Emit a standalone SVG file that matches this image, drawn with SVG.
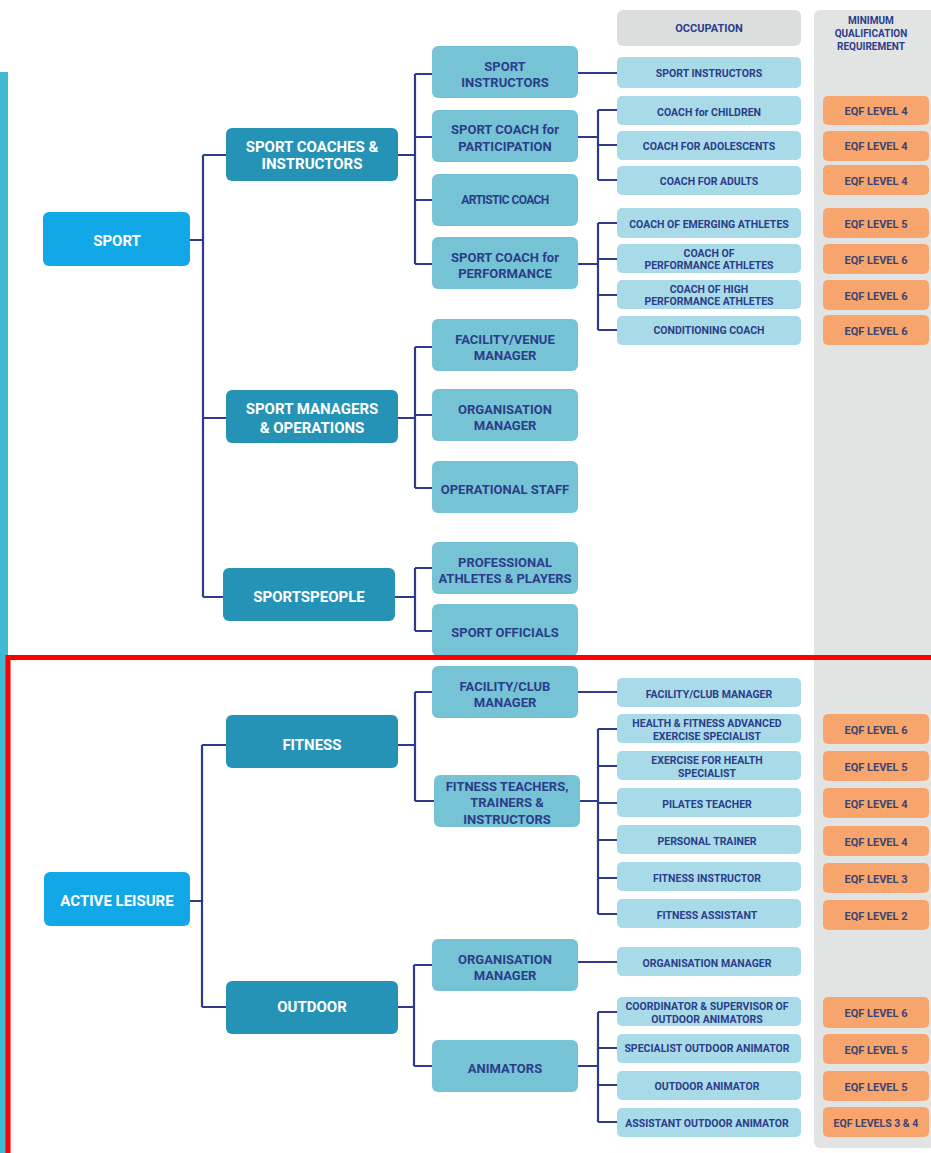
<svg xmlns="http://www.w3.org/2000/svg" width="931" height="1153" viewBox="0 0 931 1153">
<style>
text{font-family:Roboto,"Liberation Sans",sans-serif;font-weight:bold;text-anchor:middle;dominant-baseline:central}
.root{fill:#12a7e6}
.l1{fill:#2593b5}
.l2{fill:#77c3d6}
.occ{fill:#a9dae8}
.eqf{fill:#f7a56c}
.tw{fill:#fff;font-size:15px}
.t2{fill:#2b3d8a;font-size:13px}
.t3{fill:#2b3d8a;font-size:10.5px}
.te{fill:#3f4270;font-size:11px}
.th{fill:#2b3d8a;font-size:10px}
.conn path{fill:none;stroke:#2e3a8c;stroke-width:2.2}
</style>
<rect x="0" y="0" width="931" height="1153" fill="#fff"/>
<rect x="0" y="72" width="8" height="1081" fill="#3fb9d4"/>
<rect x="814" y="10" width="130" height="1138" rx="6" fill="#e2e3e3"/>
<g id="hdr-occ"><rect x="617" y="10" width="184" height="36" rx="6" fill="#dcdddd"/><text class="t3" x="709" y="28" style="font-size:11px">OCCUPATION</text></g>
<g id="hdr-min"><text class="th" x="871" y="20">MINIMUM</text><text class="th" x="871" y="33">QUALIFICATION</text><text class="th" x="871" y="46">REQUIREMENT</text></g>

<g class="conn" id="connectors">
<path d="M190 240H203M203 155V597M203 155H226M203 418H226M203 597H223"/>
<path d="M398 155H415M415 74V264M415 74H432M415 137H432M415 200H432M415 264H432"/>
<path d="M578 73H617"/>
<path d="M578 137H598M598 110V180M598 110H617M598 145H617M598 180H617"/>
<path d="M578 264H598M598 223V330M598 223H617M598 259H617M598 295H617M598 330H617"/>
<path d="M398 418H415M415 347V488M415 347H432M415 415H432M415 488H432"/>
<path d="M395 597H415M415 568V631M415 568H432M415 631H432"/>
<path d="M190 901H202M202 745V1007M202 745H226M202 1007H226"/>
<path d="M398 745H415M415 692V801M415 692H432M415 801H434"/>
<path d="M578 692H617"/>
<path d="M580 801H598M598 729V914M598 729H617M598 766H617M598 803H617M598 840H617M598 878H617M598 914H617"/>
<path d="M398 1007H414M414 965V1066M414 965H432M414 1066H432"/>
<path d="M578 962H617"/>
<path d="M578 1066H598M598 1012V1122M598 1012H617M598 1048H617M598 1085H617M598 1122H617"/>
</g>

<g id="sport"><rect class="root" x="43" y="212" width="147" height="54" rx="6"/><text class="tw" x="117" y="241">SPORT</text></g>
<g id="active-leisure"><rect class="root" x="44" y="872" width="146" height="54" rx="6"/><text class="tw" x="117" y="901">ACTIVE LEISURE</text></g>

<g id="coaches"><rect class="l1" x="226" y="128" width="172" height="53" rx="6"/><text class="tw" x="312" y="147">SPORT COACHES &amp;</text><text class="tw" x="312" y="164">INSTRUCTORS</text></g>
<g id="managers"><rect class="l1" x="226" y="390" width="172" height="53" rx="6"/><text class="tw" x="312" y="409">SPORT MANAGERS</text><text class="tw" x="312" y="428">&amp; OPERATIONS</text></g>
<g id="sportspeople"><rect class="l1" x="223" y="568" width="172" height="53" rx="6"/><text class="tw" x="309" y="597">SPORTSPEOPLE</text></g>
<g id="fitness"><rect class="l1" x="226" y="715" width="172" height="53" rx="6"/><text class="tw" x="312" y="745">FITNESS</text></g>
<g id="outdoor"><rect class="l1" x="226" y="981" width="172" height="53" rx="6"/><text class="tw" x="312" y="1007">OUTDOOR</text></g>

<g id="m-sport-instructors"><rect class="l2" x="432" y="46" width="146" height="52" rx="6"/><text class="t2" x="505" y="66">SPORT</text><text class="t2" x="505" y="82">INSTRUCTORS</text></g>
<g id="m-participation"><rect class="l2" x="432" y="110" width="146" height="52" rx="6"/><text class="t2" x="505" y="129">SPORT COACH for</text><text class="t2" x="505" y="146">PARTICIPATION</text></g>
<g id="m-artistic"><rect class="l2" x="432" y="174" width="146" height="52" rx="6"/><text class="t2" x="505" y="200" style="font-size:12px;letter-spacing:-0.6px">ARTISTIC COACH</text></g>
<g id="m-performance"><rect class="l2" x="432" y="237" width="146" height="52" rx="6"/><text class="t2" x="505" y="257">SPORT COACH for</text><text class="t2" x="505" y="273">PERFORMANCE</text></g>
<g id="m-venue"><rect class="l2" x="432" y="319" width="146" height="52" rx="6"/><text class="t2" x="505" y="339">FACILITY/VENUE</text><text class="t2" x="505" y="355">MANAGER</text></g>
<g id="m-org"><rect class="l2" x="432" y="389" width="146" height="52" rx="6"/><text class="t2" x="505" y="409">ORGANISATION</text><text class="t2" x="505" y="425">MANAGER</text></g>
<g id="m-opstaff"><rect class="l2" x="432" y="461" width="146" height="52" rx="6"/><text class="t2" x="505" y="489">OPERATIONAL STAFF</text></g>
<g id="m-athletes"><rect class="l2" x="432" y="542" width="146" height="52" rx="6"/><text class="t2" x="505" y="562">PROFESSIONAL</text><text class="t2" x="505" y="578">ATHLETES &amp; PLAYERS</text></g>
<g id="m-officials"><rect class="l2" x="432" y="604" width="146" height="52" rx="6"/><text class="t2" x="505" y="632">SPORT OFFICIALS</text></g>
<g id="m-club"><rect class="l2" x="432" y="666" width="146" height="52" rx="6"/><text class="t2" x="505" y="686">FACILITY/CLUB</text><text class="t2" x="505" y="702">MANAGER</text></g>
<g id="m-fitteachers"><rect class="l2" x="434" y="775" width="146" height="52" rx="6"/><text class="t2" x="507" y="786">FITNESS TEACHERS,</text><text class="t2" x="507" y="802">TRAINERS &amp;</text><text class="t2" x="507" y="819">INSTRUCTORS</text></g>
<g id="m-org2"><rect class="l2" x="432" y="939" width="146" height="52" rx="6"/><text class="t2" x="505" y="959">ORGANISATION</text><text class="t2" x="505" y="975">MANAGER</text></g>
<g id="m-animators"><rect class="l2" x="432" y="1040" width="146" height="52" rx="6"/><text class="t2" x="505" y="1068">ANIMATORS</text></g>

<g id="o1"><rect class="occ" x="617" y="57" width="184" height="31" rx="5"/><text class="t3" x="709" y="73">SPORT INSTRUCTORS</text></g>
<g id="o2"><rect class="occ" x="617" y="96" width="184" height="29" rx="5"/><text class="t3" x="709" y="112">COACH for CHILDREN</text></g>
<g id="o3"><rect class="occ" x="617" y="131" width="184" height="29" rx="5"/><text class="t3" x="709" y="146">COACH FOR ADOLESCENTS</text></g>
<g id="o4"><rect class="occ" x="617" y="166" width="184" height="29" rx="5"/><text class="t3" x="709" y="181">COACH FOR ADULTS</text></g>
<g id="o5"><rect class="occ" x="617" y="208" width="184" height="30" rx="5"/><text class="t3" x="709" y="224">COACH OF EMERGING ATHLETES</text></g>
<g id="o6"><rect class="occ" x="617" y="244" width="184" height="29" rx="5"/><text class="t3" x="709" y="253">COACH OF</text><text class="t3" x="709" y="265">PERFORMANCE ATHLETES</text></g>
<g id="o7"><rect class="occ" x="617" y="280" width="184" height="29" rx="5"/><text class="t3" x="709" y="289">COACH OF HIGH</text><text class="t3" x="709" y="301">PERFORMANCE ATHLETES</text></g>
<g id="o8"><rect class="occ" x="617" y="316" width="184" height="29" rx="5"/><text class="t3" x="709" y="330">CONDITIONING COACH</text></g>
<g id="o9"><rect class="occ" x="617" y="678" width="184" height="29" rx="5"/><text class="t3" x="709" y="694">FACILITY/CLUB MANAGER</text></g>
<g id="o10"><rect class="occ" x="617" y="714" width="184" height="29" rx="5"/><text class="t3" x="707" y="723">HEALTH &amp; FITNESS ADVANCED</text><text class="t3" x="707" y="736">EXERCISE SPECIALIST</text></g>
<g id="o11"><rect class="occ" x="617" y="751" width="184" height="29" rx="5"/><text class="t3" x="707" y="760">EXERCISE FOR HEALTH</text><text class="t3" x="707" y="773">SPECIALIST</text></g>
<g id="o12"><rect class="occ" x="617" y="788" width="184" height="29" rx="5"/><text class="t3" x="707" y="804">PILATES TEACHER</text></g>
<g id="o13"><rect class="occ" x="617" y="825" width="184" height="29" rx="5"/><text class="t3" x="707" y="841">PERSONAL TRAINER</text></g>
<g id="o14"><rect class="occ" x="617" y="862" width="184" height="29" rx="5"/><text class="t3" x="707" y="878">FITNESS INSTRUCTOR</text></g>
<g id="o15"><rect class="occ" x="617" y="899" width="184" height="29" rx="5"/><text class="t3" x="707" y="915">FITNESS ASSISTANT</text></g>
<g id="o16"><rect class="occ" x="617" y="947" width="184" height="29" rx="5"/><text class="t3" x="707" y="963">ORGANISATION MANAGER</text></g>
<g id="o17"><rect class="occ" x="617" y="997" width="184" height="29" rx="5"/><text class="t3" x="707" y="1006">COORDINATOR &amp; SUPERVISOR OF</text><text class="t3" x="707" y="1019">OUTDOOR ANIMATORS</text></g>
<g id="o18"><rect class="occ" x="617" y="1034" width="184" height="29" rx="5"/><text class="t3" x="707" y="1048">SPECIALIST OUTDOOR ANIMATOR</text></g>
<g id="o19"><rect class="occ" x="617" y="1071" width="184" height="29" rx="5"/><text class="t3" x="707" y="1086">OUTDOOR ANIMATOR</text></g>
<g id="o20"><rect class="occ" x="617" y="1108" width="184" height="29" rx="5"/><text class="t3" x="707" y="1123">ASSISTANT OUTDOOR ANIMATOR</text></g>

<g id="e2"><rect class="eqf" x="823" y="96" width="106" height="29" rx="5"/><text class="te" x="876" y="111">EQF LEVEL 4</text></g>
<g id="e3"><rect class="eqf" x="823" y="131" width="106" height="30" rx="5"/><text class="te" x="876" y="146">EQF LEVEL 4</text></g>
<g id="e4"><rect class="eqf" x="823" y="165" width="106" height="30" rx="5"/><text class="te" x="876" y="181">EQF LEVEL 4</text></g>
<g id="e5"><rect class="eqf" x="823" y="208" width="106" height="30" rx="5"/><text class="te" x="876" y="224">EQF LEVEL 5</text></g>
<g id="e6"><rect class="eqf" x="823" y="244" width="106" height="30" rx="5"/><text class="te" x="876" y="260">EQF LEVEL 6</text></g>
<g id="e7"><rect class="eqf" x="823" y="280" width="106" height="30" rx="5"/><text class="te" x="876" y="296">EQF LEVEL 6</text></g>
<g id="e8"><rect class="eqf" x="823" y="315" width="106" height="30" rx="5"/><text class="te" x="876" y="331">EQF LEVEL 6</text></g>
<g id="e10"><rect class="eqf" x="823" y="714" width="106" height="30" rx="5"/><text class="te" x="876" y="730">EQF LEVEL 6</text></g>
<g id="e11"><rect class="eqf" x="823" y="751" width="106" height="30" rx="5"/><text class="te" x="876" y="767">EQF LEVEL 5</text></g>
<g id="e12"><rect class="eqf" x="823" y="788" width="106" height="30" rx="5"/><text class="te" x="876" y="804">EQF LEVEL 4</text></g>
<g id="e13"><rect class="eqf" x="823" y="826" width="106" height="30" rx="5"/><text class="te" x="876" y="842">EQF LEVEL 4</text></g>
<g id="e14"><rect class="eqf" x="823" y="863" width="106" height="30" rx="5"/><text class="te" x="876" y="879">EQF LEVEL 3</text></g>
<g id="e15"><rect class="eqf" x="823" y="900" width="106" height="30" rx="5"/><text class="te" x="876" y="916">EQF LEVEL 2</text></g>
<g id="e17"><rect class="eqf" x="823" y="997" width="106" height="31" rx="5"/><text class="te" x="876" y="1013">EQF LEVEL 6</text></g>
<g id="e18"><rect class="eqf" x="823" y="1034" width="106" height="30" rx="5"/><text class="te" x="876" y="1050">EQF LEVEL 5</text></g>
<g id="e19"><rect class="eqf" x="823" y="1071" width="106" height="30" rx="5"/><text class="te" x="876" y="1087">EQF LEVEL 5</text></g>
<g id="e20"><rect class="eqf" x="823" y="1107" width="106" height="30" rx="5"/><text class="te" x="876" y="1123" style="font-size:10.5px">EQF LEVELS 3 &amp; 4</text></g>

<rect x="8" y="657.5" width="940" height="520" fill="none" stroke="#ff0000" stroke-width="5"/>
</svg>
